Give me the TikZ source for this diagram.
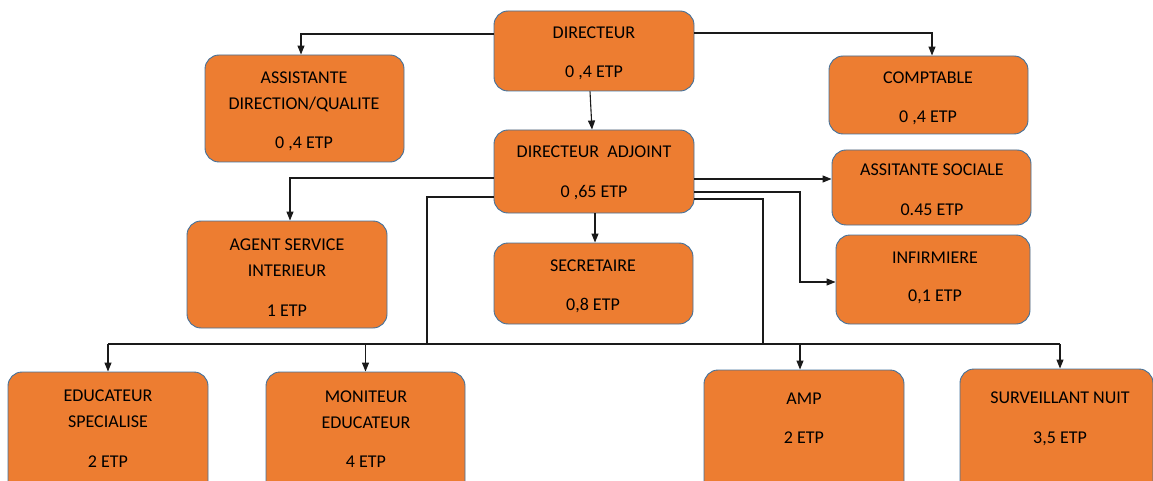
\documentclass[tikz,border=0pt]{standalone}
\usepackage{fontspec}
\setmainfont{Carlito}
\usetikzlibrary{arrows.meta}
\definecolor{boxfill}{HTML}{ED7D31}
\definecolor{boxline}{HTML}{41719C}
\definecolor{linecol}{HTML}{1A1A1A}
\tikzset{
  box/.style={draw=boxline, fill=boxfill, rounded corners=14pt, line width=0.9pt, inner sep=0pt},
  txt/.style={anchor=base, inner sep=0pt, text=black, font=\fontsize{18}{20}\selectfont},
  conn/.style={draw=linecol, line width=1.1pt},
  arr/.style={conn, -{Triangle[length=9pt,width=7pt]}}
}
\begin{document}
\begin{tikzpicture}[x=1pt,y=-1pt]
\useasboundingbox (0,0) rectangle (1153,481);
\clip (0,0) rectangle (1153,481);
% boxes
\node[box, minimum width=200pt, minimum height=80pt] (dir) at (594,51) {};
\node[box, minimum width=199pt, minimum height=107pt] (asq) at (304.5,108.5) {};
\node[box, minimum width=199pt, minimum height=78pt] (cpt) at (928.5,95) {};
\node[box, minimum width=200pt, minimum height=83pt] (da) at (594,171.5) {};
\node[box, minimum width=199pt, minimum height=75pt] (as) at (931.5,187.5) {};
\node[box, minimum width=194pt, minimum height=89pt] (inf) at (933,279.5) {};
\node[box, minimum width=200pt, minimum height=107pt] (asi) at (287,274.5) {};
\node[box, minimum width=199pt, minimum height=81pt] (sec) at (593.5,283.5) {};
\node[box, minimum width=200pt, minimum height=128pt] (edu) at (108,436) {};
\node[box, minimum width=199pt, minimum height=128pt] (mon) at (365.5,436) {};
\node[box, minimum width=200pt, minimum height=130pt] (amp) at (804,435) {};
\node[box, minimum width=193pt, minimum height=131pt] (sn) at (1056.5,434.5) {};
% texts
\node[txt] (t1) at (594,39) {DIRECTEUR};
\node[txt] (t2) at (594,78) {0 ,4 ETP};
\node[txt] (t3) at (304,84) {ASSISTANTE};
\node[txt] (t4) at (304,110) {DIRECTION/QUALITE};
\node[txt] (t5) at (304,149) {0 ,4 ETP};
\node[txt] (t6) at (928,84) {COMPTABLE};
\node[txt] (t7) at (928,123) {0 ,4 ETP};
\node[txt] (t8) at (594,158) {DIRECTEUR\ \ ADJOINT};
\node[txt] (t9) at (594,197) {0 ,65 ETP};
\node[txt] (t10) at (932,176) {ASSITANTE SOCIALE};
\node[txt] (t11) at (932,215) {0.45 ETP};
\node[txt] (t12) at (935,263) {INFIRMIERE};
\node[txt] (t13) at (935,301) {0,1 ETP};
\node[txt] (t14) at (287,250) {AGENT SERVICE};
\node[txt] (t15) at (287,276) {INTERIEUR};
\node[txt] (t16) at (287,316) {1 ETP};
\node[txt] (t17) at (593,271) {SECRETAIRE};
\node[txt] (t18) at (593,310) {0,8 ETP};
\node[txt] (t19) at (108,401) {EDUCATEUR};
\node[txt] (t20) at (108,427) {SPECIALISE};
\node[txt] (t21) at (108,467) {2 ETP};
\node[txt] (t22) at (366,402) {MONITEUR};
\node[txt] (t23) at (366,428) {EDUCATEUR};
\node[txt] (t24) at (366,467) {4 ETP};
\node[txt] (t25) at (804,404) {AMP};
\node[txt] (t26) at (804,443) {2 ETP};
\node[txt] (t27) at (1060,403) {SURVEILLANT NUIT};
\node[txt] (t28) at (1060,443) {3,5 ETP};
% coordinates
\coordinate (busL) at (108,344);
\coordinate (busR) at (1060,344);
\coordinate (j1) at (427,344);
\coordinate (j2) at (763,344);
\coordinate (k) at (800,282);
\coordinate (tapA) at (800,344);
% connectors from DIRECTEUR
\draw[arr] ([yshift=17pt]dir.west) -| ([xshift=-3.5pt]asq.north);
\draw[arr] ([yshift=18pt]dir.east) -| ([xshift=3.5pt]cpt.north);
\draw[arr] ([xshift=-4pt]dir.south) -- ([xshift=-2pt]da.north);
% connectors from DIRECTEUR ADJOINT
\draw[arr] ([yshift=-6.5pt]da.west) -| ([xshift=3pt]asi.north);
\draw[conn] ([yshift=-25.5pt]da.west) -| (j1);
\draw[arr] ([xshift=1pt]da.south) -- ([xshift=1.5pt]sec.north);
\draw[arr] ([yshift=-7.5pt]da.east) -- ([yshift=8.5pt]as.west);
\draw[arr] ([yshift=-20.5pt]da.east) -| (k) -- ([yshift=-2.5pt]inf.west);
\draw[conn] ([yshift=-27.5pt]da.east) -| (j2);
% bus
\draw[conn] (busL) -- (busR);
\draw[arr] (busL) -- (edu.north);
\draw[arr] (mon.north |- busL) -- (mon.north);
\draw[arr] (tapA) -- ([xshift=-4pt]amp.north);
\draw[arr] (busR) -- ([xshift=3.5pt]sn.north);
\end{tikzpicture}
\end{document}
